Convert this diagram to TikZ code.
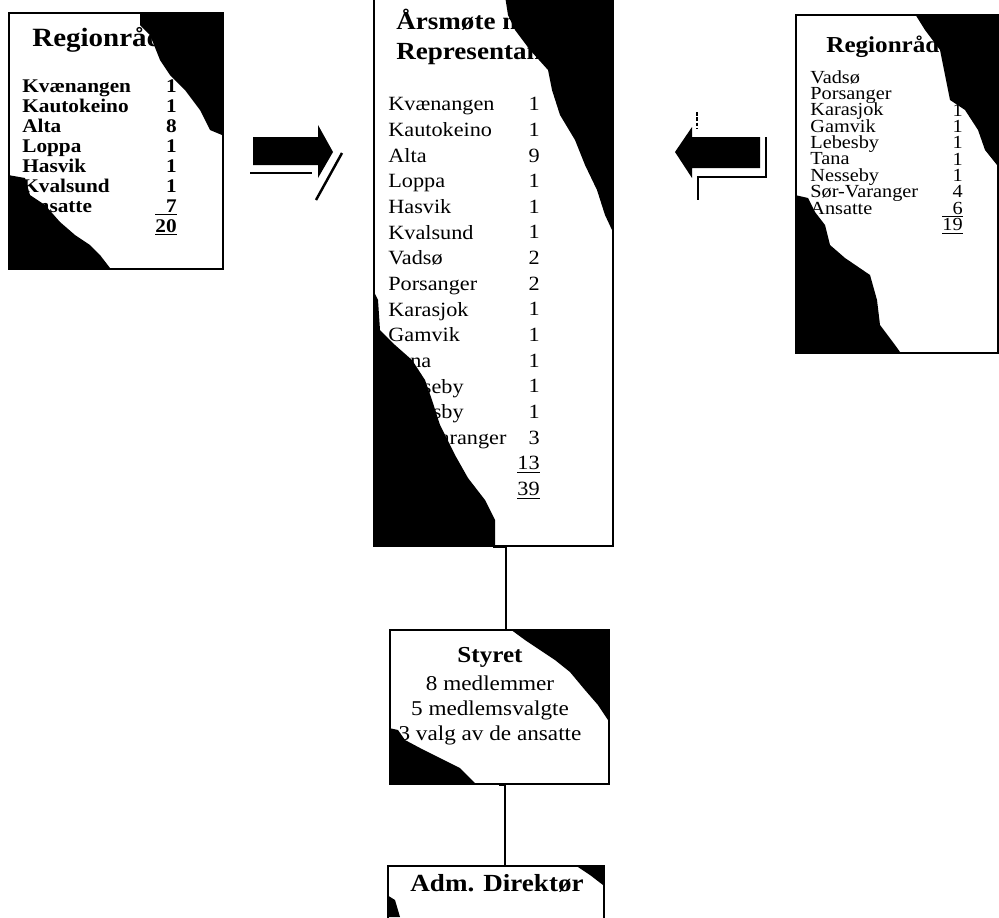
\documentclass[tikz,border=0pt]{standalone}
\usepackage{fontspec}
\setmainfont[FakeStretch=1.1]{Liberation Serif}
\usetikzlibrary{positioning}
\lineskiplimit=-100pt

\begin{document}
\begin{tikzpicture}[
  x=0.02cm, y=-0.02cm,
  box/.style={draw, line width=1.1pt, inner sep=0pt, anchor=north west},
  blob/.style={fill=black},
  lst/.style={inner sep=0pt, anchor=base west, align=left},
  nums/.style={inner sep=0pt, anchor=base east, align=right},
  shade/.style={line width=1.4pt}
]
  \useasboundingbox (0,0) rectangle (999,917);

  % Boxes
  \node[box, minimum width=4.28cm, minimum height=5.12cm] (vest) at (8,12) {};
  \node[box, minimum width=4.78cm, minimum height=10.98cm] (aarsmote) at (373,-4) {};
  \node[box, minimum width=4.04cm, minimum height=6.76cm] (ost) at (795,14) {};
  \node[box, minimum width=4.38cm, minimum height=3.08cm] (styret) at (389,629) {};
  \node[box, minimum width=4.32cm, minimum height=1.5cm] (adm) at (387,865) {};

  % Scan shadows
  \fill[blob] (140,12) -- (222,12) -- (222,135) -- (210,130) -- (200,110) -- (185,90) -- (170,75) -- (160,60) -- (150,35) -- (140,25) -- cycle;
  \fill[blob] (8,175) -- (25,178) -- (30,195) -- (45,205) -- (60,222) -- (75,235) -- (90,245) -- (100,255) -- (110,268) -- (8,268) -- cycle;
  \fill[blob] (505,-4) -- (612,-4) -- (612,230) -- (605,215) -- (597,190) -- (585,165) -- (575,140) -- (560,115) -- (552,90) -- (548,70) -- (530,50) -- (515,30) -- (508,15) -- cycle;
  \fill[blob] (373,290) -- (378,300) -- (380,330) -- (395,345) -- (412,360) -- (425,380) -- (432,400) -- (440,425) -- (455,455) -- (468,478) -- (485,500) -- (495,520) -- (495,545) -- (373,545) -- cycle;
  \fill[blob] (915,14) -- (997,14) -- (997,165) -- (985,150) -- (978,130) -- (965,110) -- (950,100) -- (945,75) -- (940,50) -- (925,30) -- cycle;
  \fill[blob] (795,195) -- (808,198) -- (815,212) -- (825,225) -- (830,245) -- (845,258) -- (870,275) -- (877,300) -- (880,325) -- (895,345) -- (900,352) -- (795,352) -- cycle;
  \fill[blob] (510,629) -- (608,629) -- (608,720) -- (598,705) -- (585,690) -- (570,672) -- (555,660) -- (540,650) -- (525,640) -- cycle;
  \fill[blob] (389,728) -- (398,730) -- (405,740) -- (420,748) -- (440,758) -- (460,768) -- (475,783) -- (389,783) -- cycle;
  \fill[blob] (575,865) -- (603,865) -- (603,885) -- (590,875) -- cycle;
  \fill[blob] (387,895) -- (395,900) -- (400,917) -- (387,917) -- cycle;

  % Regionraad vest (multi-line nodes sit on their last baseline)
  \node[lst, font=\bfseries\fontsize{15}{17}\selectfont] (vesttitle) at (32,46) {Regionråd Vest};
  \node[lst, font=\bfseries\fontsize{11}{11.34}\selectfont] (vestnames) at (22,212)
    {Kvænangen\\Kautokeino\\Alta\\Loppa\\Hasvik\\Kvalsund\\Ansatte};
  \node[nums, font=\bfseries\fontsize{11}{11.34}\selectfont] (vestnums) at (177,232)
    {1\\1\\8\\1\\1\\1\\\underline{\phantom{0}7}\\\underline{20}};

  % Aarsmote
  \node[lst, font=\bfseries\fontsize{14}{17}\selectfont] (aarsmotetitle) at (396,59) {Årsmøte med\\Representanter};
  \node[lst, font=\fontsize{11.5}{14.6}\selectfont] (aarsmotenames) at (388,470)
    {Kvænangen\\Kautokeino\\Alta\\Loppa\\Hasvik\\Kvalsund\\Vadsø\\Porsanger\\Karasjok\\Gamvik\\Tana\\Nesseby\\Lebesby\\Sør-Varanger\\Ansatte};
  \node[nums, font=\fontsize{11.5}{14.6}\selectfont] (aarsmotenums) at (540,495.5)
    {1\\1\\9\\1\\1\\1\\2\\2\\1\\1\\1\\1\\1\\3\\\underline{13}\\\underline{39}};

  % Regionraad ost
  \node[lst, font=\bfseries\fontsize{13}{16}\selectfont] (osttitle) at (826,52) {Regionråd Øst};
  \node[lst, font=\fontsize{10.5}{9.3}\selectfont] (ostnames) at (810,214)
    {Vadsø\\Porsanger\\Karasjok\\Gamvik\\Lebesby\\Tana\\Nesseby\\Sør-Varanger\\Ansatte};
  \node[nums, font=\fontsize{10.5}{9.3}\selectfont] (ostnums) at (963,230.5)
    {2\\2\\1\\1\\1\\1\\1\\4\\\underline{\phantom{0}6}\\\underline{19}};

  % Styret and Adm. Direktor
  \node[inner sep=0pt, align=center, font=\fontsize{12}{14.2}\selectfont] (styrettext) at (490,696)
    {{\bfseries\fontsize{13}{14.2}\selectfont Styret}\\[1.5pt]8 medlemmer\\5 medlemsvalgte\\3 valg av de ansatte};
  \node[inner sep=0pt, font=\bfseries\fontsize{14}{17}\selectfont] (admtext) at (497,883) {Adm. Direktør};

  % Links
  \draw[line width=1.2pt] ([xshift=0.13cm]styret.north) |- (aarsmote.south);
  \draw[line width=0.7pt] ([xshift=0.18cm]adm.north) |- (styret.south);

  % Block arrows
  \fill (253,137) -- (318,137) -- (318,125) -- (333,152) -- (318,178) -- (318,165) -- (253,165) -- cycle;
  \fill (760,137) -- (692,137) -- (692,127) -- (675,152) -- (692,178) -- (692,168) -- (760,168) -- cycle;
  \draw[shade] (250,173) -- (312,173);
  \draw[shade] (342,153) -- (316,200);
  \draw[line width=1.2pt] (766,137) -- (766,177) -- (698,177) -- (698,200);
  \draw[line width=1pt, dash pattern=on 2pt off 1pt] (697,112) -- (697,129);
\end{tikzpicture}
\end{document}
